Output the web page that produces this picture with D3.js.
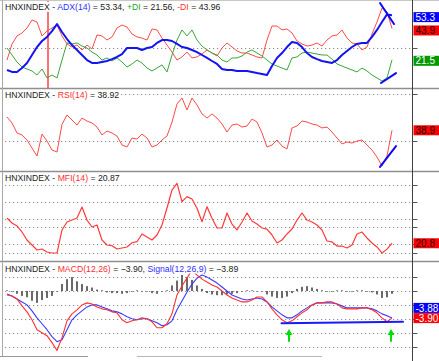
<!DOCTYPE html>
<html><head><meta charset="utf-8">
<script src="https://cdn.jsdelivr.net/npm/d3@7"></script>
<style>body{margin:0;background:#fff}svg{display:block}</style>
</head><body><svg id="c" width="439" height="361"></svg>
<script>
// ---------- data ----------
const adx = [14.3,12.9,12.9,15.7,19.3,25.0,30.7,35.0,37.9,42.1,47.1,41.4,36.4,32.1,28.6,25.0,21.4,19.3,19.3,20.0,20.7,22.1,23.6,25.7,30.0,30.0,30.0,28.6,30.0,30.7,33.6,35.7,35.7,35.0,32.9,30.7,30.0,28.6,27.1,25.0,22.9,20.7,18.6,15.0,14.3,14.3,13.6,13.6,13.6,12.9,12.1,11.4,10.7,17.1,22.9,26.4,30.7,34.3,33.6,30.7,26.4,23.6,22.1,20.7,20.0,19.3,21.4,25.0,27.9,30.7,32.9,33.6,33.6,37.9,42.9,48.6,54.0,53.34];
const minusDI = [21.4,32.9,38.6,40.7,44.3,50.0,48.6,38.6,42.1,44.3,46.4,38.6,32.9,30.7,32.1,28.6,32.1,29.3,39.3,38.6,35.7,37.9,44.3,46.4,45.0,40.0,37.9,37.1,35.7,43.6,42.9,37.1,32.1,27.1,21.4,23.6,27.1,22.9,23.6,25.7,28.6,26.4,24.3,30.0,33.6,30.7,27.9,26.4,26.4,25.0,23.6,22.9,35.7,45.7,45.7,42.9,43.6,40.7,35.0,32.9,31.4,32.1,33.6,31.4,35.7,38.6,39.3,42.9,37.1,33.6,32.9,28.6,30.7,40.0,48.6,58.6,55.7,43.96];
const plusDI = [30.0,25.0,20.0,16.4,15.0,13.6,10.7,15.0,8.6,10.7,8.6,21.4,33.6,32.9,33.6,31.4,30.0,27.1,25.0,21.4,22.9,20.7,22.9,20.0,16.4,18.6,21.4,19.3,15.7,13.6,15.7,17.9,12.9,25.0,35.7,42.9,38.6,42.9,35.7,31.4,28.6,26.4,25.0,21.4,20.0,22.9,22.9,24.3,27.1,28.6,26.4,24.3,21.4,18.6,17.1,15.7,14.3,22.9,23.6,26.4,27.1,26.4,25.7,25.0,25.0,22.1,18.6,17.1,15.7,14.3,12.9,15.7,13.6,10.7,8.6,6.4,8.6,21.56];
const rsi = [50.3,45.2,36.6,34.9,30.6,23.7,16.9,35.7,29.7,22.0,20.3,44.0,52.0,47.7,43.4,49.4,46.8,45.2,41.7,34.9,38.3,36.6,34.0,26.3,24.6,32.3,31.4,35.7,32.3,24.6,26.3,30.6,34.0,46.0,61.4,66.6,56.3,66.6,60.6,52.9,49.4,52.9,49.4,44.3,37.4,43.4,44.3,41.7,42.6,48.5,46.0,36.6,24.6,26.3,30.6,25.4,22.9,40.9,42.6,46.9,46.0,44.3,43.4,40.9,41.7,37.4,32.3,27.2,28.9,28.0,29.7,30.6,26.3,22.0,16.0,8.3,16.9,38.92];
const mfi = [50.6,44.7,41.2,34.1,24.7,18.8,12.9,14.1,10.6,9.4,9.4,36.5,45.9,48.2,50.6,63.5,48.2,40.0,42.4,24.7,18.8,18.0,14.1,15.3,16.5,21.5,22.7,31.8,28.2,24.7,30.6,42.4,62.4,83.5,91.4,69.8,75.7,72.9,62.0,46.2,63.9,50.2,38.8,38.8,56.5,43.5,36.5,45.9,56.5,47.1,43.5,38.8,37.6,30.6,21.2,24.7,31.8,37.6,48.2,56.5,48.2,45.9,42.4,36.5,23.5,22.4,17.6,17.6,15.3,18.8,31.8,34.1,27.1,21.2,16.5,9.4,14.0,20.87];
const macd = [-0.57,-0.71,-1.14,-2.14,-3.0,-4.14,-5.57,-6.0,-6.43,-7.43,-8.57,-6.71,-4.29,-3.29,-2.71,-2.0,-1.71,-1.86,-2.29,-2.57,-2.71,-3.0,-3.14,-4.14,-4.57,-4.29,-4.14,-3.86,-4.0,-4.43,-5.29,-5.29,-4.71,-3.29,-0.57,0.71,1.86,3.0,2.29,1.71,1.29,0.86,0.57,0.0,-0.57,-1.0,-1.29,-1.57,-1.57,-1.29,-0.86,-0.86,-1.57,-2.57,-3.43,-4.14,-4.57,-4.29,-3.71,-3.14,-2.71,-2.0,-1.71,-1.71,-1.57,-1.57,-1.86,-2.43,-2.57,-2.57,-2.57,-2.43,-2.43,-2.71,-3.14,-3.86,-4.43,-3.90];
const signal = [-0.43,-0.71,-1.14,-1.57,-2.0,-2.86,-3.86,-4.71,-5.57,-6.57,-7.29,-7.0,-5.57,-4.14,-3.43,-2.86,-2.29,-2.0,-2.0,-2.29,-2.57,-2.86,-3.0,-3.29,-3.71,-4.0,-4.14,-4.0,-4.0,-4.29,-4.57,-5.0,-4.86,-4.29,-2.71,-1.43,-0.14,1.0,1.86,2.29,2.0,1.57,1.14,0.57,0.0,-0.57,-0.86,-1.14,-1.29,-1.14,-1.0,-1.14,-1.57,-2.29,-2.86,-3.43,-3.86,-3.86,-3.43,-2.86,-2.43,-2.0,-1.71,-1.71,-1.71,-1.71,-1.86,-2.14,-2.43,-2.43,-2.43,-2.43,-2.43,-2.57,-2.86,-3.29,-3.57,-3.89];
const hist = [0.1,-0.1,-0.4,-0.7,-0.9,-1.4,-1.7,-1.3,-1.0,-0.7,-0.1,1.0,1.7,2.0,1.4,1.0,0.7,0.5,0.2,0.1,-0.2,-0.3,-0.3,-0.4,-0.3,-0.1,0.1,-0.1,-0.1,-0.3,-0.4,-0.1,0.1,0.8,1.5,2.3,2.0,1.6,0.8,0.3,-0.3,-0.5,-0.6,-0.6,-0.5,-0.4,-0.3,-0.1,0.1,0.1,-0.1,-0.1,-0.5,-0.8,-1.0,-1.0,-0.8,-0.3,0.3,0.6,0.7,0.5,0.3,0.1,-0.1,-0.1,0.1,0.1,-0.1,-0.1,0.1,0.1,-0.1,-0.2,-0.5,-1.0,-0.9,-0.4];

const adxGrid = [30];
const rsiGrid = [70, 30];
const mfiGrid = [90, 70, 50, 40, 20, 10];
const macdGrid = [2, 0, -2, -4, -6, -8];
// value boxes as shown at the right edge
const boxLabels = {adx:"53.3", minus:"43.9", plus:"21.5", rsi:"38.9", mfi:"20.8", signal:"-3.88", macd:"-3.90"};

// annotations in data space (index, value)
const markerIndex = 8.2;
const adxTrends = [[[74.6, 62.1],[77.4, 47.1]], [[74.8, 5.0],[77.8, 12.1]]];
const rsiTrend = [[74.6, 7.5],[77.8, 25.4]];
const macdTrend = [[54.9, -4.64],[79.2, -4.43]];
const arrows = [{i:56.4, tip:-5.45, tail:-7.3}, {i:76.8, tip:-5.45, tail:-7.3}];

// ---------- layout ----------
const svg = d3.select('#c');
const N = adx.length;
const AX = 412.5;
const x = d3.scaleLinear().domain([0, N - 1]).range([7, 392]);
const yA = d3.scaleLinear().domain([0, 60]).range([90, 6]);
const yR = d3.scaleLinear().domain([30, 70]).range([140.7, 94]);
const yM = d3.scaleLinear().domain([0, 100]).range([261, 176]);
const yC = d3.scaleLinear().domain([0, -4]).range([291, 318.8]);
const fmt = d3.format(".2f");

// grids
function grid(sc, vals){
  vals.forEach(v=>{
    const yy = Math.round(sc(v)) + 0.5;
    svg.append('line').attr('x1',5).attr('x2',AX).attr('y1',yy).attr('y2',yy)
      .attr('stroke','#8c8c8c').attr('stroke-width',1.2).attr('stroke-dasharray','1.2,2.8');
    svg.append('line').attr('x1',AX).attr('x2',AX+5).attr('y1',yy).attr('y2',yy)
      .attr('stroke','#555').attr('stroke-width',1);
  });
}
grid(yA, adxGrid); grid(yR, rsiGrid); grid(yM, mfiGrid); grid(yC, macdGrid);

// histogram
svg.append('g').selectAll('rect').data(hist).join('rect')
  .attr('x',(d,i)=>x(i)-1).attr('width',2)
  .attr('y',d=>Math.min(yC(d), yC(0))).attr('height',d=>Math.abs(yC(d)-yC(0)))
  .attr('fill','#6a6a6a');

function drawLine(sc, data, color, w){
  svg.append('path').attr('d', d3.line().x((d,i)=>x(i)).y(d=>sc(d))(data))
    .attr('fill','none').attr('stroke',color).attr('stroke-width',w).attr('stroke-linejoin','round');
}
// marker line
svg.append('line').attr('x1',x(markerIndex)).attr('x2',x(markerIndex)).attr('y1',0).attr('y2',88)
  .attr('stroke','#ff7070').attr('stroke-width',2);

drawLine(yA, minusDI, '#ff4a4a', 1);
drawLine(yA, plusDI, '#3aa63a', 1);
drawLine(yA, adx, '#1414f0', 2);
drawLine(yR, rsi, '#ff4a4a', 1);
drawLine(yM, mfi, '#ff3a3a', 1.2);
drawLine(yC, signal, '#3a3aff', 1.1);
drawLine(yC, macd, '#ff3030', 1.1);

function trend(sc, seg, color, w){
  svg.append('line').attr('x1',x(seg[0][0])).attr('y1',sc(seg[0][1]))
    .attr('x2',x(seg[1][0])).attr('y2',sc(seg[1][1]))
    .attr('stroke',color).attr('stroke-width',w).attr('stroke-linecap','round');
}
adxTrends.forEach(s=>trend(yA, s, '#0a0aff', 2));
trend(yR, rsiTrend, '#0a0aff', 2);
trend(yC, macdTrend, '#1a1aff', 2);

arrows.forEach(a=>{
  const ax = x(a.i), ty = yC(a.tip), tl = yC(a.tail);
  svg.append('path').attr('d', `M${ax},${ty} L${ax+3.5},${ty+6} L${ax+1},${ty+6} L${ax+1},${tl} L${ax-1},${tl} L${ax-1},${ty+6} L${ax-3.5},${ty+6} Z`)
    .attr('fill','#00e000');
});

// titles
const titles = [
  {y:9.8, parts:[["HNXINDEX - ","#222"],["ADX(14)","#3030ff"],[" = "+fmt(adx[N-1])+", ","#222"],["+DI","#1f9f1f"],[" = "+fmt(plusDI[N-1])+", ","#222"],["-DI","#ff3030"],[" = "+fmt(minusDI[N-1]),"#222"]]},
  {y:98.3, parts:[["HNXINDEX - ","#222"],["RSI(14)","#ff3030"],[" = "+fmt(rsi[N-1]),"#222"]]},
  {y:180.7, parts:[["HNXINDEX - ","#222"],["MFI(14)","#ff3030"],[" = "+fmt(mfi[N-1]),"#222"]]},
  {y:271.5, parts:[["HNXINDEX - ","#222"],["MACD(12,26)","#ff3030"],[" = "+fmt(macd[N-1])+", ","#222"],["Signal(12,26,9)","#3030ff"],[" = "+fmt(signal[N-1]),"#222"]]}
];
titles.forEach(t=>{
  const g = svg.append('g');
  const bg = g.append('rect').attr('fill','#fff');
  const tx = g.append('text').attr('x',5).attr('y',t.y)
    .attr('font-family','"Liberation Sans", Arial, sans-serif').attr('font-size',8.7);
  t.parts.forEach(p=>tx.append('tspan').attr('fill',p[1]).text(p[0]));
  const b = tx.node().getBBox();
  bg.attr('x',b.x-1).attr('y',b.y).attr('width',b.width+2).attr('height',b.height);
});

// frame
const sep = [88, 171, 261];
sep.forEach(yy=>svg.append('line').attr('x1',0).attr('x2',439).attr('y1',yy+0.5).attr('y2',yy+0.5)
  .attr('stroke','#8f8f8f').attr('stroke-width',1.5));
svg.append('line').attr('x1',0).attr('x2',439).attr('y1',0.5).attr('y2',0.5).attr('stroke','#c8c8c8');
svg.append('line').attr('x1',2.5).attr('x2',2.5).attr('y1',0).attr('y2',356).attr('stroke','#a8a8a8');
svg.append('line').attr('x1',AX).attr('x2',AX).attr('y1',0).attr('y2',361).attr('stroke','#404040').attr('stroke-width',1);
svg.append('line').attr('x1',0).attr('x2',88).attr('y1',356.5).attr('y2',356.5).attr('stroke','#9a9a9a');
svg.append('line').attr('x1',137).attr('x2',322).attr('y1',356.5).attr('y2',356.5).attr('stroke','#b8b8b8');

// value boxes
function box(yc, bg, fg, txt){
  svg.append('rect').attr('x',413.5).attr('y',yc-5).attr('width',26).attr('height',10).attr('fill',bg);
  svg.append('text').attr('x',415.5).attr('y',yc+3.6).attr('fill',fg)
    .attr('font-family','"Liberation Sans", Arial, sans-serif').attr('font-size',10).text(txt);
}
box(yA(adx[N-1])+1.8, '#0000ff', '#fff', boxLabels.adx);
box(yA(minusDI[N-1])+2, '#ff0000', '#200000', boxLabels.minus);
box(yA(plusDI[N-1])+1, '#009a00', '#fff', boxLabels.plus);
box(yR(rsi[N-1]), '#ff0000', '#200000', boxLabels.rsi);
box(yM(mfi[N-1]), '#ff0000', '#200000', boxLabels.mfi);
const yMacdBox = yC(macd[N-1]);
box(yMacdBox, '#ff0000', '#fff', boxLabels.macd);
box(yMacdBox-10.2, '#0000ff', '#fff', boxLabels.signal);
</script></body></html>
